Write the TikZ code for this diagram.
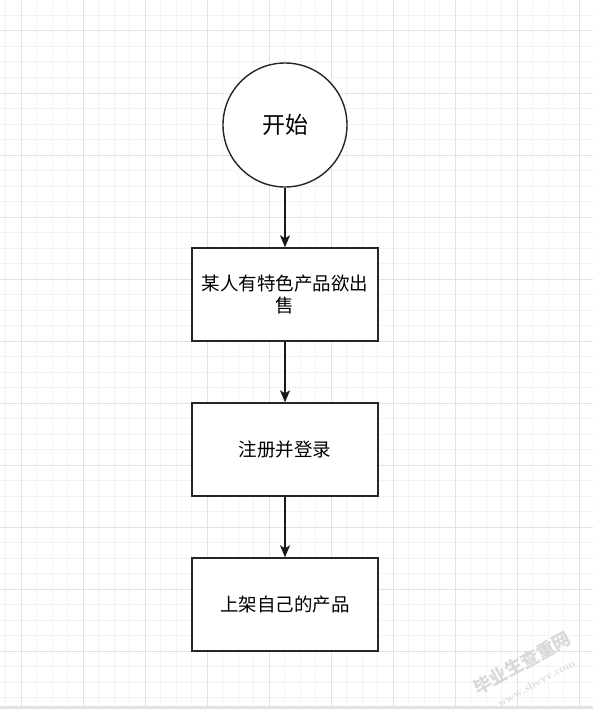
\documentclass[tikz,border=0pt]{standalone}
\usepackage{fontspec}
\newfontfamily\cjk{Noto Sans CJK SC}
\usetikzlibrary{arrows.meta}
\definecolor{minorgrid}{HTML}{F3F3F3}
\definecolor{majorgrid}{HTML}{E2E2E2}
\definecolor{wmark}{HTML}{D9D9D9}
\tikzset{
  stepbox/.style={draw=black!85, line width=1.4pt, fill=white, minimum width=186pt, minimum height=93pt, inner sep=0pt, align=center, font=\cjk\fontsize{18.5}{22}\selectfont},
  startnode/.style={draw=black!85, line width=1.4pt, fill=white, circle, minimum size=124pt, inner sep=0pt, font=\cjk\fontsize{23}{27}\selectfont},
  flow/.style={draw=black!90, line width=1.3pt, -{Stealth[length=12pt,width=10pt,inset=3pt]}}
}
\begin{document}
\begin{tikzpicture}[x=1pt,y=-1pt]
\useasboundingbox (0,0) rectangle (593,709);
\fill[white] (0,0) rectangle (593,709);
% minor grid
\foreach \i in {-1,...,38} {
  \draw[minorgrid, line width=1pt] ({21+15.5*\i},0) -- ({21+15.5*\i},709);
}
\foreach \j in {-2,...,44} {
  \draw[minorgrid, line width=1pt] (0,{31+15.5*\j}) -- (593,{31+15.5*\j});
}
% major grid
\foreach \i in {0,...,9} {
  \draw[majorgrid, line width=1pt] ({21+62*\i},0) -- ({21+62*\i},709);
}
\foreach \j in {0,...,11} {
  \draw[majorgrid, line width=1pt] (0,{31+62*\j}) -- (593,{31+62*\j});
}
% bottom band
\fill[majorgrid] (0,706) rectangle (593,709);
% nodes
\node[startnode] (start) at (285,125) {开始};
\node[stepbox] (s1) at (285,294.5) {某人有特色产品欲出\\售};
\node[stepbox] (s2) at (285,449.5) {注册并登录};
\node[stepbox] (s3) at (285,604.5) {上架自己的产品};
% connectors
\draw[flow] (start) -- (s1);
\draw[flow] (s1) -- (s2);
\draw[flow] (s2) -- (s3);
% watermark
\node[rotate=29, text=wmark, inner sep=0pt, font=\cjk\bfseries\fontsize{18}{18}\selectfont] (wm1) at (522,663) {毕业生查重网};
\node[rotate=29, text=wmark, inner sep=0pt, font=\bfseries\fontsize{11}{11}\selectfont] (wm2) at (536,683) {www.sbvvv.com};
\end{tikzpicture}
\end{document}
